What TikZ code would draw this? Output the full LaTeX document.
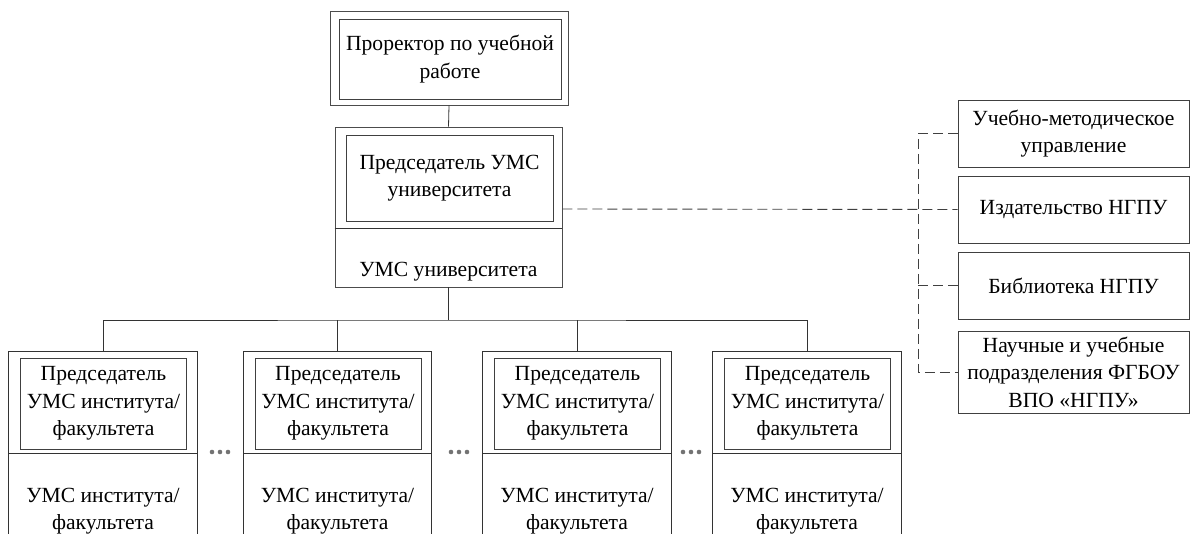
\documentclass[tikz,border=0pt]{standalone}
\usepackage{fontspec}
\setmainfont{Liberation Serif}
\usetikzlibrary{positioning}

\newcommand{\boxfont}{\fontsize{21.6}{27.5}\selectfont}

\tikzset{
  frame/.style={draw=black!70, line width=0.8pt, inner sep=0pt},
  ghost/.style={inner sep=0pt},
  inbox/.style={draw=black!75, line width=0.8pt, inner sep=0pt, align=center, font=\boxfont},
  label/.style={align=center, font=\boxfont, inner sep=0pt},
  link/.style={draw=black!80, line width=0.8pt},
  dashlink/.style={draw=black!75, line width=0.9pt, dash pattern=on 10pt off 5pt},
}

\begin{document}
\begin{tikzpicture}[x=1pt, y=-1pt]
  \useasboundingbox (0,0) rectangle (1191,534);

  % Prorector
  \node[frame, minimum width=238, minimum height=94] (prorektor) at (449,58) {};
  \node[inbox, minimum width=222, minimum height=80] (prorektorin) at (450,59)
    {Проректор по учебной\\работе};

  % University council
  \node[frame, minimum width=227, minimum height=160] (umsu) at (448.5,207) {};
  \node[inbox, minimum width=207, minimum height=86] (umsuin) at (449.5,178)
    {Председатель УМС\\университета};
  \draw[link] (umsu.west |- 0,228) -- (umsu.east |- 0,228);
  \node[label] (umsutxt) at (448.5,272) {УМС университета};

  \draw[link] (prorektor.south) -- (umsu.north);

  % Institute / faculty councils
  \coordinate (bus) at (448.5,320);
  \foreach \i/\cx in {1/103, 2/337.5, 3/577, 4/807} {
    \node[ghost, minimum width=188, minimum height=182] (f\i) at (\cx,443) {};
    \draw[link] (f\i.south west) |- (f\i.north east) -- (f\i.south east);
    \node[inbox, minimum width=166, minimum height=91] (fin\i) at ({\cx+0.5},403.5)
      {Председатель\\УМС института/\\факультета};
    \draw[link] (f\i.west |- 0,453) -- (f\i.east |- 0,453);
    \node[label] (ftxt\i) at (\cx,511) {УМС института/\\факультета};
  }
  \draw[link] (umsu.south) -- (umsu.south |- bus);
  \draw[link] (f1.north) |- (bus) -| (f4.north);
  \draw[link] (f2.north) -- (f2.north |- bus);
  \draw[link] (f3.north) -- (f3.north |- bus);

  % dots between boxes
  \foreach \x in {212,451,683}
    \foreach \d in {0,8,16}
      \fill[black!55] ({\x+\d},452) circle (2.3pt);

  % Services on the right
  \node[inbox, minimum width=231, minimum height=67] (r1) at (1073.5,133.5)
    {Учебно-методическое\\управление};
  \node[inbox, minimum width=231, minimum height=67] (r2) at (1073.5,209.5)
    {Издательство НГПУ};
  \node[inbox, minimum width=231, minimum height=67] (r3) at (1073.5,285.5)
    {Библиотека НГПУ};
  \node[inbox, minimum width=231, minimum height=82] (r4) at (1073.5,372)
    {Научные и учебные\\подразделения ФГБОУ\\ВПО «НГПУ»};

  \coordinate (hub) at (918,209);
  \draw[dashlink] (umsu.east |- hub) -- (r2.west);
  \draw[dashlink] (r1.west) -| (hub) |- (r4.west);
  \draw[dashlink] (r3.west) -- (r3.west -| hub);
\end{tikzpicture}
\end{document}
